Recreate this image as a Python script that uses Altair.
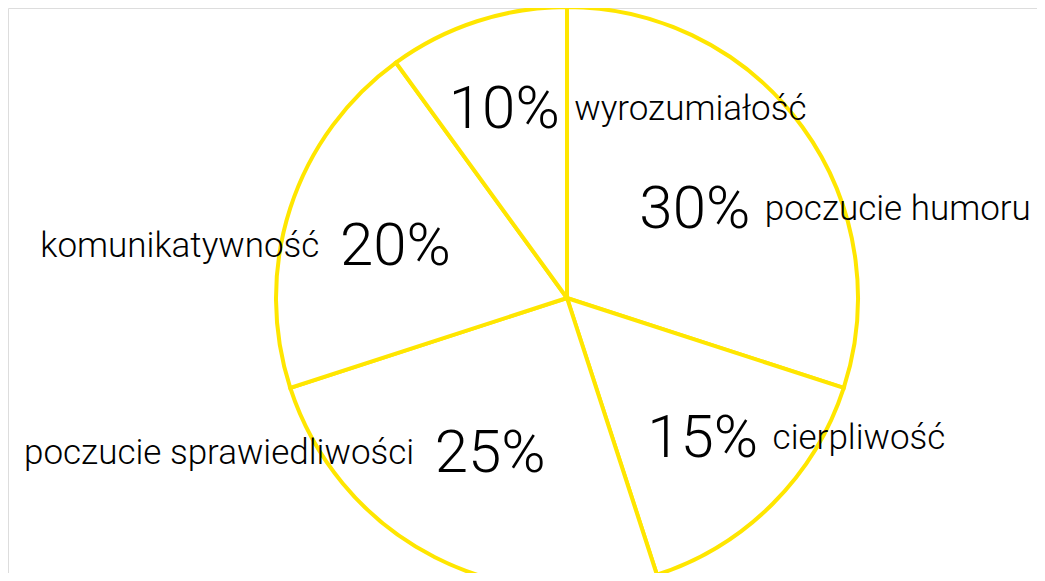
import altair as alt
import pandas as pd

categories = ["poczucie humoru", "cierpliwość", "poczucie sprawiedliwości", "komunikatywność", "wyrozumiałość"]
values = [30, 15, 25, 20, 10]
pct_labels = ["30%", "15%", "25%", "20%", "10%"]

df = pd.DataFrame({"idx": list(range(len(values))), "category": categories,
                   "value": values, "pct": pct_labels})

YELLOW = "#FFE600"
FONT = "Roboto"
CX, CY, R = 559, 290, 291

base = alt.Chart(df).transform_window(
    end="sum(value)", sort=[alt.SortField("idx")]
).transform_calculate(
    start="datum.end - datum.value",
    mid="datum.end - datum.value / 2",
)

theta_scale = alt.Scale(domain=[0, 100])
radius_scale = alt.Scale(type="linear", domain=[10, 30], range=[203, 158])

arcs = base.mark_arc(fill="white", stroke=YELLOW, strokeWidth=4, outerRadius=R).encode(
    theta=alt.Theta("start:Q", scale=theta_scale),
    theta2="end:Q",
    x=alt.value(CX), y=alt.value(CY),
)

def text_enc(field):
    return dict(
        theta=alt.Theta("mid:Q", scale=theta_scale),
        radius=alt.Radius("value:Q", scale=radius_scale),
        x=alt.value(CX), y=alt.value(CY),
        text=f"{field}:N",
    )

pcts = base.mark_text(font=FONT, fontSize=60, fontWeight=300, color="black",
                      align="center", baseline="middle", dy=5).encode(**text_enc("pct"))

is_right = "datum.mid < 50 || datum.mid > 90"

right_lbl = base.transform_filter(is_right).mark_text(
    font=FONT, fontSize=35, fontWeight=300, color="black", align="left", baseline="middle",
    dx=70, dy=4
).encode(**text_enc("category"))

left_lbl = base.transform_filter(f"!({is_right})").mark_text(
    font=FONT, fontSize=35, fontWeight=300, color="black", align="right", baseline="middle",
    dx=-76, dy=4
).encode(**text_enc("category"))

chart = alt.layer(arcs, pcts, right_lbl, left_lbl).properties(
    width=1029, height=565, padding=0, autosize=alt.AutoSizeParams(type="none")
).configure_view(strokeWidth=0, stroke=None).configure(background="white")

chart.save("out.html", embed_options={"renderer": "svg", "actions": False})
